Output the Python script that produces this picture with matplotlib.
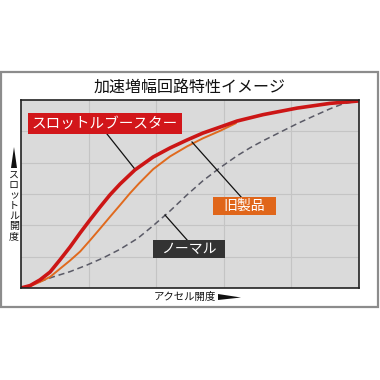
import matplotlib
matplotlib.use("Agg")
import matplotlib.pyplot as plt
from matplotlib.patches import Rectangle, Polygon

plt.rcParams['font.family'] = ['Noto Sans CJK JP', 'DejaVu Sans']

title = "加速増幅回路特性イメージ"
xlabel = "アクセル開度"
ylabel = "スロットル開度"

booster_x = [0, 2.7, 5.6, 8.6, 11.5, 14.5, 17.5, 20.4, 23.4, 26.3, 29.3, 33.7, 39.1, 44.1,
             49.1, 53.8, 58.9, 63.9, 71.6, 81.7, 91.4, 100]
booster_y = [0, 1.3, 4.3, 8.5, 14.9, 21.8, 29.3, 36.2, 43.1, 49.5, 55.3, 62.8, 69.7, 74.5,
             78.7, 82.4, 85.6, 88.8, 92.2, 95.7, 98.2, 99.5]

old_x = [0, 2.7, 5.6, 8.6, 11.5, 14.5, 17.5, 20.4, 23.4, 26.3, 29.3, 32.2, 34.9, 39.1, 44.1,
         49.1, 53.8, 58.9, 63.5]
old_y = [0, 1.0, 3.2, 5.9, 10.2, 14.6, 19.4, 25.3, 31.6, 37.8, 44.1, 50.3, 55.6, 63.2, 70.0,
         75.3, 79.6, 83.6, 87.6]

normal_x = [0, 2.7, 5.6, 9.5, 14.5, 19.5, 24.3, 29.3, 34.6, 39.0, 44.1, 49.1, 53.8, 58.9,
            63.9, 67.8, 71.6, 76.6, 81.7, 86.4, 91.4, 95.3, 100]
normal_y = [0, 1.2, 3.4, 5.9, 8.7, 12.2, 16.0, 20.6, 26.5, 33.0, 41.0, 49.5, 57.0, 64.0,
            70.3, 74.6, 78.3, 82.8, 87.4, 91.3, 95.3, 98.0, 99.5]

labels = ["スロットルブースター", "旧製品", "ノーマル"]

W = H = 380.0
def fx(x): return x / W
def fy(y): return 1 - y / H

fig = plt.figure(figsize=(3.8, 3.8), dpi=100)
fig.patch.set_facecolor('white')

# outer frame
fig.patches.append(Rectangle((fx(1), fy(307)), 377 / W, 235 / H, transform=fig.transFigure,
                             fill=False, ec='#8c8c8c', lw=1.6))

ax = fig.add_axes([fx(21), fy(288), 338 / W, 188 / H])
ax.set_facecolor('#dadada')
ax.set_xlim(0, 100)
ax.set_ylim(0, 100)
ax.set_xticks([20, 40, 60, 80])
ax.set_yticks([100 / 6 * i for i in range(1, 6)])
ax.tick_params(length=0, labelbottom=False, labelleft=False)
ax.grid(True, color='#c4c4c4', lw=0.8)
ax.set_axisbelow(True)
for s in ax.spines.values():
    s.set_color('#222222')
    s.set_linewidth(1.2)

ax.plot(normal_x, normal_y, color='#5a5a66', lw=1.1, ls=(0, (4, 2.5)))
ax.plot(old_x, old_y, color='#e06a1e', lw=1.4, solid_joinstyle='round')
ax.plot(booster_x, booster_y, color='#cc1616', lw=2.6, solid_capstyle='round',
        solid_joinstyle='round')

# leader lines (in data coords)
def d(px, py):
    return ((px - 21) / 338 * 100, (288 - py) / 188 * 100)

for (a, b) in [((107, 134), (134, 168)), ((192, 142), (242, 198)), ((165, 215), (188, 241))]:
    p1, p2 = d(*a), d(*b)
    ax.plot([p1[0], p2[0]], [p1[1], p2[1]], color='#111111', lw=0.9, clip_on=False)

# label boxes
boxes = [
    (labels[0], 28, 113, 182, 134, '#d2161a', 10.5),
    (labels[1], 213, 197, 276, 215, '#e0661a', 10),
    (labels[2], 153, 240, 225, 258, '#333333', 10),
]
for text, x0, y0, x1, y1, col, fs in boxes:
    fig.patches.append(Rectangle((fx(x0), fy(y1)), (x1 - x0) / W, (y1 - y0) / H,
                                 transform=fig.transFigure, fc=col, ec='none', zorder=5))
    fig.text(fx((x0 + x1) / 2), fy((y0 + y1) / 2), text, color='white', fontsize=fs,
             ha='center', va='center', zorder=6)

fig.text(fx(190), fy(87), title, fontsize=11.5, ha='center', va='center', color='#111111')

# x label with arrow
fig.text(fx(185), fy(297), xlabel, fontsize=7.5, ha='center', va='center', color='#111111')
fig.patches.append(Polygon([(fx(218), fy(294)), (fx(241), fy(297.5)), (fx(218), fy(300))],
                           closed=True, transform=fig.transFigure, fc='#111111', ec='none'))

# y label, vertical writing (one character per line) with arrow
for i, ch in enumerate(ylabel):
    fig.text(fx(14), fy(175 + i * 10.2), ch, fontsize=7.2, ha='center', va='center',
             color='#111111')
fig.patches.append(Polygon([(fx(11), fy(168)), (fx(14), fy(147)), (fx(17), fy(168))],
                           closed=True, transform=fig.transFigure, fc='#111111', ec='none'))

fig.savefig("out.png", dpi=100)
